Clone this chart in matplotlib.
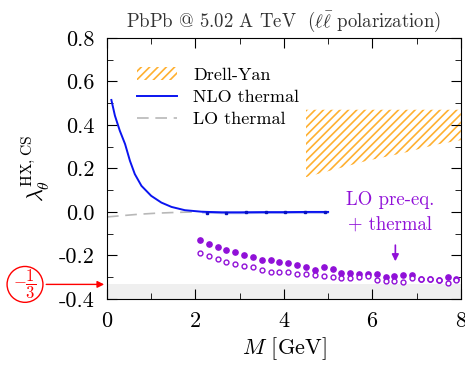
import numpy as np
import matplotlib
matplotlib.use("Agg")
import matplotlib.pyplot as plt
from matplotlib.patches import Patch
from matplotlib.lines import Line2D

plt.rcParams["font.family"] = "cmr10"
plt.rcParams["mathtext.fontset"] = "cm"
plt.rcParams["axes.formatter.use_mathtext"] = True

# NLO thermal (blue)
nlo_m = [0.1, 0.18, 0.29, 0.41, 0.52, 0.63, 0.78, 1.0, 1.23, 1.46, 1.76, 2.14, 2.6, 3.0, 3.5, 4.0, 4.5, 5.0]
nlo_l = [0.515, 0.443, 0.374, 0.312, 0.235, 0.174, 0.12, 0.074, 0.043, 0.023, 0.008, 0.001, -0.002, -0.002, -0.001, -0.001, 0.0, 0.0]
nlo_pts_m = [2.26, 2.70, 3.15, 3.59, 4.03, 4.47, 4.92]
nlo_pts_l = [-0.003, -0.003, -0.002, -0.002, -0.001, -0.001, 0.0]

# LO thermal (grey dashed)
lo_m = [0.0, 0.35, 0.7, 1.1, 1.46, 1.8, 2.0]
lo_l = [-0.023, -0.017, -0.011, -0.006, -0.003, -0.001, 0.0]

# Drell-Yan band
dy_m = [4.5, 5.87, 6.68, 7.45, 8.0]
dy_lo = [0.16, 0.235, 0.27, 0.31, 0.33]
dy_hi = [0.47, 0.47, 0.47, 0.47, 0.47]

# LO pre-eq. + thermal
pe_m = [2.1, 2.3, 2.5, 2.7, 2.9, 3.1, 3.3, 3.5, 3.7, 3.9, 4.1, 4.3, 4.5, 4.7, 4.9,
        5.1, 5.3, 5.5, 5.7, 5.9, 6.1, 6.3, 6.5, 6.7, 6.9, 7.1, 7.3, 7.5, 7.7, 7.9]
pe_full = [-0.129, -0.146, -0.162, -0.175, -0.185, -0.200, -0.206, -0.222, -0.223, -0.231,
           -0.237, -0.243, -0.252, -0.268, -0.255, -0.263, -0.281, -0.281, -0.286, -0.286,
           -0.286, -0.299, -0.294, -0.289, -0.291, -0.309, -0.309, -0.315, -0.300, -0.309]
pe_open = [-0.191, -0.204, -0.218, -0.229, -0.240, -0.248, -0.255, -0.268, -0.275, -0.277,
           -0.278, -0.286, -0.286, -0.289, -0.293, -0.300, -0.303, -0.303, -0.299, -0.297,
           -0.314, -0.320, -0.317, -0.323, -0.303, -0.310, -0.310, -0.315, -0.328, -0.312]

orange = "#ffb030"
purple = "#9010d8"

fig = plt.figure(figsize=(4.65, 3.69), dpi=100)
ax = fig.add_axes([0.230, 0.19, 0.761, 0.707])

ax.axhspan(-0.4, -1/3, color="#efefef", lw=0, zorder=0)

plt.rcParams["hatch.color"] = orange
plt.rcParams["hatch.linewidth"] = 1.2
ax.fill_between(dy_m, dy_lo, dy_hi, facecolor="none", edgecolor=orange, hatch="////", lw=0)

m = np.array(nlo_m)
l = np.array(nlo_l)
sel = m >= 1.9
ax.fill_between(m[sel], l[sel] - 0.006, l[sel] + 0.006, color="#aab4ee", lw=0)
ax.plot(lo_m, lo_l, color="#b8b8b8", ls=(0, (7, 4)), lw=1.2)
ax.plot(nlo_m, nlo_l, color="#0a14f0", lw=1.4)
ax.plot(nlo_pts_m, nlo_pts_l, ls="none", marker="s", ms=2, color="#0a14c0")

ax.plot(pe_m, pe_full, ls="none", marker="o", ms=3.8, color=purple)
ax.plot(pe_m, pe_open, ls="none", marker="o", ms=3.5, mfc="white", mec=purple, mew=1.0)

ax.text(6.4, 0.055, "LO pre-eq.", color=purple, fontsize=13.5, ha="center", va="center")
ax.text(6.4, -0.062, "+ thermal", color=purple, fontsize=13.5, ha="center", va="center")
ax.annotate("", xy=(6.52, -0.24), xytext=(6.52, -0.14),
            arrowprops=dict(arrowstyle="-|>", color=purple, lw=1.2, mutation_scale=10))

ax.annotate(r"$-\dfrac{1}{3}$", xy=(0, -1/3), xycoords="data",
            xytext=(-59, 0), textcoords="offset points", color="red", fontsize=12,
            ha="center", va="center", annotation_clip=False,
            bbox=dict(boxstyle="circle,pad=0.08", fc="white", ec="red", lw=1),
            arrowprops=dict(arrowstyle="-|>", color="red", lw=1, mutation_scale=10))

ax.set_xlim(0, 8)
ax.set_ylim(-0.4, 0.8)
ax.set_xticks([0, 2, 4, 6, 8])
ax.set_xticks([1, 3, 5, 7], minor=True)
ax.set_yticks([-0.4, -0.2, 0.0, 0.2, 0.4, 0.6, 0.8])
ax.set_yticks([-0.3, -0.1, 0.1, 0.3, 0.5, 0.7], minor=True)
ax.set_yticklabels(["-0.4", "-0.2", "0.0", "0.2", "0.4", "0.6", "0.8"])
ax.tick_params(which="both", direction="in", top=True, right=True, labelsize=16, pad=9)
ax.tick_params(which="major", length=7)
ax.tick_params(which="minor", length=4)

ax.set_xlabel(r"$M$ [GeV]", fontsize=16, labelpad=3)
ax.set_ylabel(r"$\lambda_\theta^{\rm HX,CS}$", fontsize=16, labelpad=5)
ax.set_title(r"PbPb @ 5.02 A TeV  ($\ell\bar{\ell}$ polarization)", fontsize=13.5, pad=8,
             color="#333333")

handles = [Patch(facecolor="none", edgecolor=orange, hatch="////", lw=0),
           Line2D([], [], color="#0a14f0", lw=1.4),
           Line2D([], [], color="#b8b8b8", ls=(0, (7, 4)), lw=1.2)]
ax.legend(handles, ["Drell-Yan", "NLO thermal", "LO thermal"], loc="upper left",
          bbox_to_anchor=(0.04, 0.95), frameon=False, fontsize=13,
          handlelength=2.2, handletextpad=0.9, labelspacing=0.35)

fig.savefig("out.png", dpi=100)
